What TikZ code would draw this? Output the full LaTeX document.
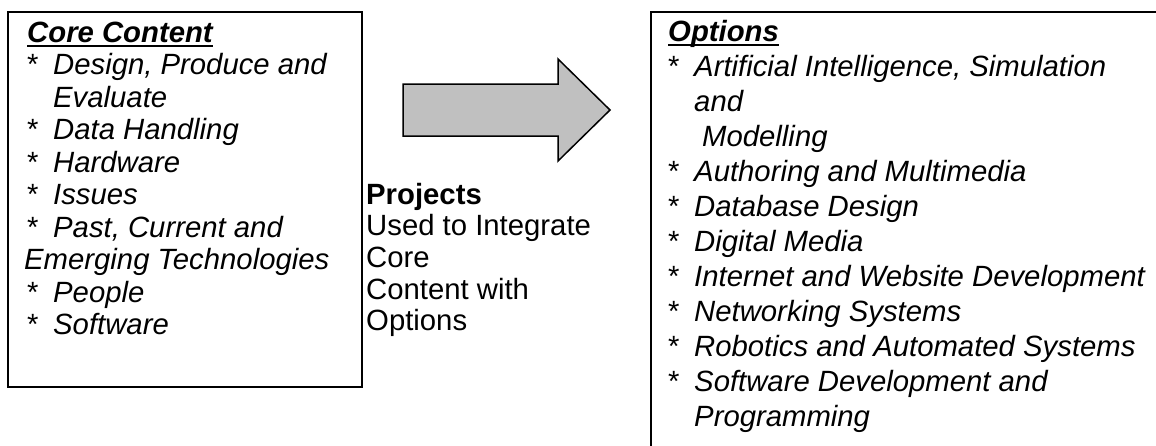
\documentclass[tikz,border=0pt]{standalone}
\usepackage{fontspec}
\setmainfont{Liberation Sans}
\definecolor{arrowgray}{HTML}{C0C0C0}
\newcommand{\itm}[1]{\makebox[26pt][l]{*}\textit{#1}}
\tikzset{
  box/.style={draw=black, line width=2pt},
  txt/.style={anchor=base west, inner sep=0pt, font=\fontsize{29.3}{34}\selectfont},
  hdr/.style={txt, font=\fontsize{29.3}{34}\selectfont\bfseries\itshape},
  uline/.style={line width=1.8pt},
  blockarrow/.style={draw=black, line width=1.5pt, fill=arrowgray, line join=miter}
}
\begin{document}
\begin{tikzpicture}[x=1pt,y=1pt]
\useasboundingbox (0,0) rectangle (1156,-445);
% core content box
\draw[box] (8,-12) rectangle (362,-387);
\node[hdr] (core) at (27,-42) {Core Content};
\draw[uline] ([yshift=-4pt]core.base west) -- ([yshift=-4pt]core.base east);
\node[txt] (design) at (27,-74.5) {\itm{Design, Produce and}};
\node[txt] (evaluate) at (53,-107) {\textit{Evaluate}};
\node[txt] (data) at (27,-139.5) {\itm{Data Handling}};
\node[txt] (hardware) at (27,-172) {\itm{Hardware}};
\node[txt] (issues) at (27,-204.5) {\itm{Issues}};
\node[txt] (past) at (27,-237) {\itm{Past, Current and}};
\node[txt] (emerging) at (24,-269.5) {\textit{Emerging Technologies}};
\node[txt] (people) at (27,-302) {\itm{People}};
\node[txt] (software) at (27,-334.5) {\itm{Software}};
% arrow and projects
\draw[blockarrow] (403,-84) -- (558,-84) -- (558,-59) -- (610,-110)
  -- (558,-161) -- (558,-136) -- (403,-136) -- cycle;
\node[txt] (projects) at (366,-204) {\textbf{Projects}};
\node[txt] (used) at (366,-235.7) {Used to Integrate};
\node[txt] (pcore) at (366,-267.4) {Core};
\node[txt] (pcontent) at (366,-299.1) {Content with};
\node[txt] (poptions) at (366,-330.8) {Options};
% options box, cut off at the edge
\begin{scope}
  \clip (0,0) rectangle (1156,-445);
  \draw[box] (651,-12) rectangle (1170,-460);
\end{scope}
\node[hdr] (options) at (668,-41) {Options};
\draw[uline] ([yshift=-4pt]options.base west) -- ([yshift=-4pt]options.base east);
\node[txt] (ai) at (668,-76) {\itm{Artificial Intelligence, Simulation}};
\node[txt] (aiand) at (694,-111) {\textit{and}};
\node[txt] (modelling) at (702,-146) {\textit{Modelling}};
\node[txt] (authoring) at (668,-181) {\itm{Authoring and Multimedia}};
\node[txt] (database) at (668,-216) {\itm{Database Design}};
\node[txt] (digital) at (668,-251) {\itm{Digital Media}};
\node[txt] (internet) at (668,-286) {\itm{Internet and Website Development}};
\node[txt] (networking) at (668,-321) {\itm{Networking Systems}};
\node[txt] (robotics) at (668,-356) {\itm{Robotics and Automated Systems}};
\node[txt] (softdev) at (668,-391) {\itm{Software Development and}};
\node[txt] (programming) at (694,-426) {\textit{Programming}};
\end{tikzpicture}
\end{document}
